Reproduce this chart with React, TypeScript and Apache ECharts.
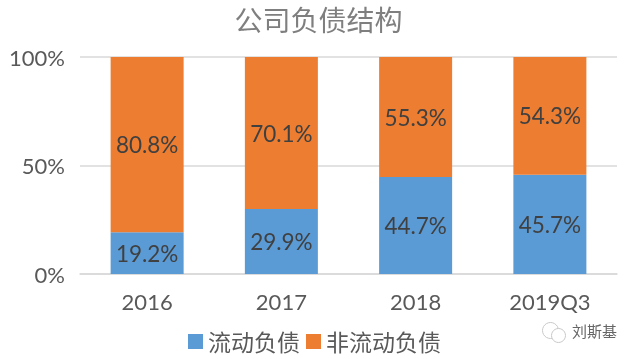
import React, { useEffect, useRef } from "react";
import * as echarts from "echarts";

const categories = ["2016", "2017", "2018", "2019Q3"];
const currentDebt = [19.2, 29.9, 44.7, 45.7];
const nonCurrentDebt = [80.8, 70.1, 55.3, 54.3];
const titleText = "公司负债结构";
const watermarkText = "刘斯基";
const FONT = "Lato, 'Noto Sans CJK SC', sans-serif";

export default function App() {
  const ref = useRef<HTMLDivElement>(null);
  useEffect(() => {
    const chart = echarts.init(ref.current!, undefined, { renderer: "svg" });
    const label = {
      show: true,
      position: "inside" as const,
      formatter: (p: any) => p.value.toFixed(1) + "%",
      color: "#404040",
      fontSize: 22.5,
      fontFamily: FONT,
    };
    chart.setOption({
      animation: false,
      title: {
        text: titleText,
        left: "center",
        top: 1,
        textStyle: { color: "#7f7f7f", fontSize: 28, fontWeight: "normal", fontFamily: FONT },
      },
      legend: {
        bottom: 1,
        left: 183,
        itemWidth: 15,
        itemHeight: 15,
        itemGap: 6,
        icon: "rect",
        textStyle: { color: "#595959", fontSize: 23, fontFamily: FONT },
      },
      grid: { left: 80, right: 20, top: 57, bottom: 85 },
      xAxis: {
        type: "category",
        data: categories,
        axisLine: { lineStyle: { color: "#d9d9d9", width: 1.5 } },
        axisTick: { show: false },
        axisLabel: { color: "#595959", fontSize: 22, fontFamily: FONT, margin: 16 },
      },
      yAxis: {
        type: "value",
        min: 0,
        max: 100,
        interval: 50,
        axisLine: { show: false },
        axisTick: { show: false },
        axisLabel: { color: "#595959", fontSize: 22, fontFamily: FONT, margin: 15, formatter: "{value}%" },
        splitLine: { lineStyle: { color: "#d9d9d9", width: 1.5 } },
      },
      series: [
        { name: "流动负债", type: "bar", stack: "t", data: currentDebt, barWidth: 73, itemStyle: { color: "#5b9bd5" }, label },
        { name: "非流动负债", type: "bar", stack: "t", data: nonCurrentDebt, barWidth: 73, itemStyle: { color: "#ed7d31" }, label },
      ],
      graphic: [
        {
          type: "group",
          left: 540,
          top: 320,
          children: [
            { type: "circle", shape: { cx: 9, cy: 8, r: 8 }, style: { fill: "none", stroke: "#c8c8c8", lineWidth: 1 } },
            { type: "circle", shape: { cx: 17, cy: 13, r: 7 }, style: { fill: "#fff", stroke: "#c8c8c8", lineWidth: 1 } },
          ],
        },
        {
          type: "text",
          left: 572,
          top: 323,
          style: { text: watermarkText, fill: "#666", fontSize: 15, fontFamily: "'Noto Sans CJK SC', sans-serif" },
        },
      ],
    });
    return () => chart.dispose();
  }, []);
  return <div ref={ref} style={{ position: "fixed", left: 0, top: 0, width: 637, height: 359 }} />;
}
